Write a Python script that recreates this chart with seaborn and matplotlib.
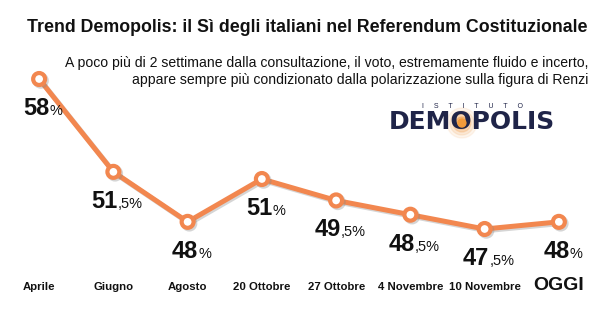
import matplotlib
matplotlib.use("Agg")
import matplotlib.pyplot as plt
import matplotlib.patheffects as pe
import seaborn as sns
import pandas as pd
import numpy as np

# ---- data ----
categories = ["Aprile", "Giugno", "Agosto", "20 Ottobre", "27 Ottobre",
              "4 Novembre", "10 Novembre", "OGGI"]
si_values = [58.0, 51.5, 48.0, 51.0, 49.5, 48.5, 47.5, 48.0]
big_labels = ["58", "51", "48", "51", "49", "48", "47", "48"]
small_labels = ["%", ",5%", "%", "%", ",5%", ",5%", ",5%", "%"]

title = "Trend Demopolis: il Sì degli italiani nel Referendum Costituzionale"
subtitle = ("A poco più di 2 settimane dalla consultazione, il voto, estremamente fluido e incerto,\n"
            "appare sempre più condizionato dalla polarizzazione sulla figura di Renzi")

df = pd.DataFrame({"idx": range(len(categories)), "cat": categories, "val": si_values})

sns.set_theme(style="white")
plt.rcParams["font.family"] = ["Liberation Sans", "DejaVu Sans"]

W, H, DPI = 600, 323, 100
fig = plt.figure(figsize=(W / DPI, H / DPI), dpi=DPI)
fig.patch.set_facecolor("white")

# axes: top at 60px, bottom at 250px (from top)
ax_top_px, ax_bot_px = 60, 250
ax = fig.add_axes([2 / W, 1 - ax_bot_px / H, 594 / W, (ax_bot_px - ax_top_px) / H])
ax.set_facecolor("none")

# y mapping: 58 -> 79px, 47.5 -> 229px
ppu = (229 - 79) / (58 - 47.5)
ytop = 58 + (79 - ax_top_px) / ppu
ybot = 47.5 - (ax_bot_px - 229) / ppu

orange = "#F2874F"
sns.lineplot(data=df, x="idx", y="val", ax=ax, sort=False, color=orange,
             linewidth=3.6, marker="o", markersize=8.6, markeredgewidth=3.0,
             markerfacecolor="white", markeredgecolor=orange,
             path_effects=[pe.SimpleLineShadow(offset=(1.2, -1.2), shadow_color="#888888", alpha=0.35),
                           pe.Normal()])
ax.set_xlim(-0.5, len(categories) - 0.5)
ax.set_ylim(ybot, ytop)
ax.set_xlabel("")
ax.set_ylabel("")
ax.set_yticks([])
for s in ax.spines.values():
    s.set_visible(False)

ax.set_xticks(range(len(categories)))
ax.set_xticklabels(categories)
ax.tick_params(axis="x", length=0, pad=(290 - ax_bot_px) * 0.72)
for lab in ax.get_xticklabels():
    lab.set_va("baseline")
    lab.set_fontweight("bold")
    lab.set_color("#111111")
    if lab.get_text() == "OGGI":
        lab.set_fontsize(14)
    else:
        lab.set_fontsize(8.2)

# value labels
big_arts, small_arts = [], []
for i, (v, b, s) in enumerate(zip(si_values, big_labels, small_labels)):
    t1 = ax.annotate(b, xy=(i, v), xytext=(0, -36 * 0.72), textcoords="offset points",
                     ha="right", va="baseline", fontsize=17, fontweight="bold", color="#111111")
    t2 = ax.annotate(s, xy=(i, v), xytext=(0, -36 * 0.72), textcoords="offset points",
                     ha="left", va="baseline", fontsize=10.5, color="#111111")
    big_arts.append(t1)
    small_arts.append(t2)

fig.canvas.draw()
r = fig.canvas.get_renderer()
for t1, t2 in zip(big_arts, small_arts):
    w1 = t1.get_window_extent(r).width
    w2 = t2.get_window_extent(r).width
    jx = 4 + (w1 - w2) / 2
    t1.set_position((jx * 0.72, -36 * 0.72))
    t2.set_position((jx * 0.72, -36 * 0.72))

# title and subtitle
ttl = fig.text(27 / W, 1 - 28 / H, title, ha="left", va="center", fontsize=15, fontweight="bold",
               color="#111111")
fig.canvas.draw()
tw = ttl.get_window_extent(r).width
ttl.set_fontsize(15 * (561 / tw))

fig.text(588 / W, 1 - 71.5 / H, subtitle, ha="right", va="center", fontsize=10.1,
         multialignment="right", linespacing=1.3, color="#111111")

# logo
navy = "#1F2448"
logo_cx = 472
logo = fig.text(logo_cx / W, 1 - 122 / H, "DEMOPOLIS", ha="center", va="center",
                fontsize=18, fontweight="heavy", family=["DejaVu Sans"], color=navy, zorder=5)
fig.text(logo_cx / W, 1 - 106 / H, "I     S     T     I     T     U     T     O", ha="center",
         va="center", fontsize=5, color=navy)
fig.canvas.draw()
bb = logo.get_window_extent(r)
tmp = fig.text(0, 0, "DEM", fontsize=18, fontweight="heavy", family=["DejaVu Sans"])
wdem = tmp.get_window_extent(r).width
tmpo = fig.text(0, 0, "O", fontsize=18, fontweight="heavy", family=["DejaVu Sans"])
wo = tmpo.get_window_extent(r).width
tmp.remove()
tmpo.remove()
ox = bb.x0 + wdem + wo / 2
oy = bb.y0 + bb.height / 2
for rad, a in [(15, 0.10), (12, 0.15), (9, 0.25), (6, 0.5)]:
    fig.patches.append(plt.Circle((ox, oy - 1), rad, transform=None, color="#F2A050",
                                  alpha=a, zorder=1))
fig.patches.append(plt.Circle((ox, oy - 1), 4, transform=None, color="#F29A3A", zorder=6))

fig.savefig("out.png", dpi=DPI, facecolor="white")
